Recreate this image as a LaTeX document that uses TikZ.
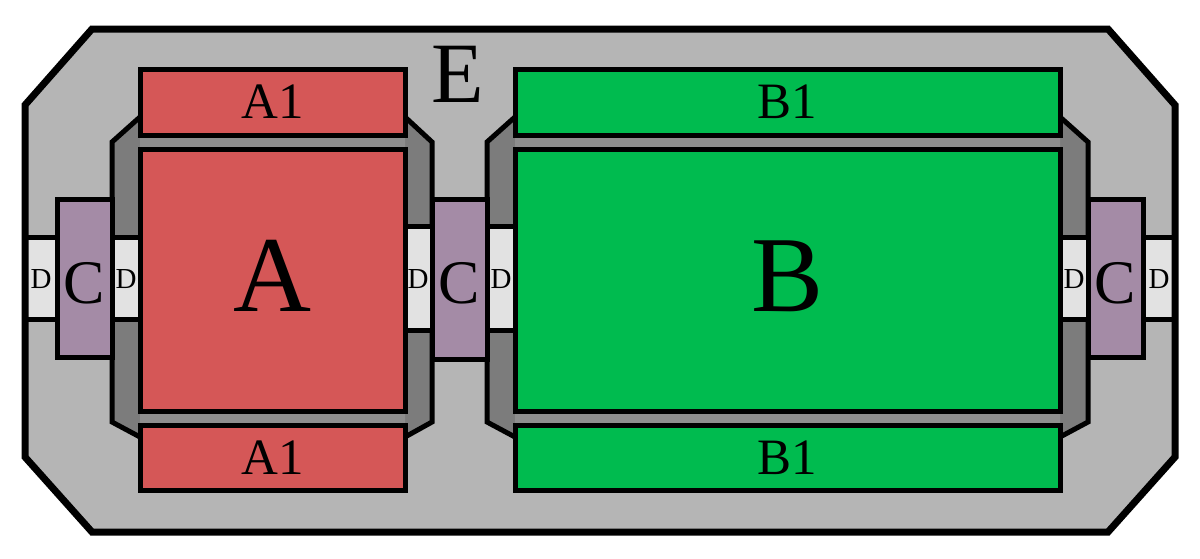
\documentclass[tikz,border=0pt]{standalone}
\usepackage{fontspec}
\setmainfont{Liberation Serif}
\definecolor{outerfill}{HTML}{B5B5B5}
\definecolor{darkfill}{HTML}{7C7C7C}
\definecolor{stripfill}{HTML}{8E8E8E}
\definecolor{bandfill}{HTML}{E2E2E2}
\definecolor{cfill}{HTML}{A48BA6}
\definecolor{redfill}{HTML}{D55757}
\definecolor{greenfill}{HTML}{00BB4F}
\tikzset{
  box/.style={draw=black, line width=5pt, rectangle, inner sep=0pt, outer sep=0pt, line join=miter},
  redbox/.style={box, fill=redfill},
  greenbox/.style={box, fill=greenfill},
  cbox/.style={box, fill=cfill},
  dlabel/.style={inner sep=0pt, font=\fontsize{29}{29}\selectfont},
  clabel/.style={inner sep=0pt, font=\fontsize{62}{62}\selectfont},
  smalllabel/.style={inner sep=0pt, font=\fontsize{51}{51}\selectfont},
  biglabel/.style={inner sep=0pt, font=\fontsize{108}{108}\selectfont},
  octo/.style={draw=black, line width=5pt, fill=darkfill, line join=miter},
  band/.style={fill=bandfill},
  bandline/.style={draw=black, line width=5pt}
}
\begin{document}
\begin{tikzpicture}[x=1pt,y=-1pt]
\useasboundingbox (0,0) rectangle (1200,558);
% outer housing
\path[fill=outerfill] (92,29) -- (1108,29) -- (1175,105) -- (1175,457) -- (1108,532) -- (92,532) -- (25,457) -- (25,105) -- cycle;
% dark octagons
\path[octo] (140,117) -- (405,117) -- (432,142) -- (432,422) -- (405,437) -- (140,437) -- (112,422) -- (112,142) -- cycle;
\path[octo] (515,117) -- (1060,117) -- (1088,142) -- (1088,422) -- (1060,437) -- (515,437) -- (487,422) -- (487,142) -- cycle;
\path[fill=stripfill] (140,135) rectangle (405,149) (140,411) rectangle (405,425);
\path[fill=stripfill] (515,135) rectangle (1060,149) (515,411) rectangle (1060,425);
% D bands
\path[band] (25,237) rectangle (140,319);
\draw[bandline] (25,237) -- (140,237) (25,319) -- (140,319);
\path[band] (405,226) rectangle (515,330);
\draw[bandline] (405,226) -- (515,226) (405,330) -- (515,330);
\path[band] (1060,237) rectangle (1175,319);
\draw[bandline] (1060,237) -- (1175,237) (1060,319) -- (1175,319);
% outer border
\draw[line width=7pt, line join=miter] (92,29) -- (1108,29) -- (1175,105) -- (1175,457) -- (1108,532) -- (92,532) -- (25,457) -- (25,105) -- cycle;
% C boxes
\node[cbox, minimum width=55pt, minimum height=158pt] (cl) at (84.5,278) {};
\node[cbox, minimum width=55pt, minimum height=160pt] (cm) at (459.5,279) {};
\node[cbox, minimum width=55pt, minimum height=158pt] (cr) at (1115.5,278) {};
\node[clabel] (clt) at (84.5,283) {C};
\node[clabel] (cmt) at (459.5,283) {C};
\node[clabel] (crt) at (1115.5,283) {C};
% D labels
\node[dlabel] (d1) at (41,279) {D};
\node[dlabel] (d2) at (126,279) {D};
\node[dlabel] (d3) at (418,279) {D};
\node[dlabel] (d4) at (501,279) {D};
\node[dlabel] (d5) at (1074,279) {D};
\node[dlabel] (d6) at (1159,279) {D};
% A side
\node[redbox, minimum width=265pt, minimum height=66pt] (a1t) at (272.5,102) {};
\node[redbox, minimum width=265pt, minimum height=262pt] (a) at (272.5,280) {};
\node[redbox, minimum width=265pt, minimum height=65pt] (a1b) at (272.5,457.5) {};
\node[smalllabel] (a1tt) at (a1t.center) {A1};
\node[biglabel] (at) at ([yshift=4pt]a.center) {A};
\node[smalllabel] (a1bt) at (a1b.center) {A1};
% B side
\node[greenbox, minimum width=545pt, minimum height=66pt] (b1t) at (787.5,102) {};
\node[greenbox, minimum width=545pt, minimum height=262pt] (b) at (787.5,280) {};
\node[greenbox, minimum width=545pt, minimum height=65pt] (b1b) at (787.5,457.5) {};
\node[smalllabel] (b1tt) at (b1t.center) {B1};
\node[biglabel] (bt) at ([yshift=4pt]b.center) {B};
\node[smalllabel] (b1bt) at (b1b.center) {B1};
% E label
\node[inner sep=0pt, font=\fontsize{86}{86}\selectfont] (e) at (458,74) {E};
\end{tikzpicture}
\end{document}
